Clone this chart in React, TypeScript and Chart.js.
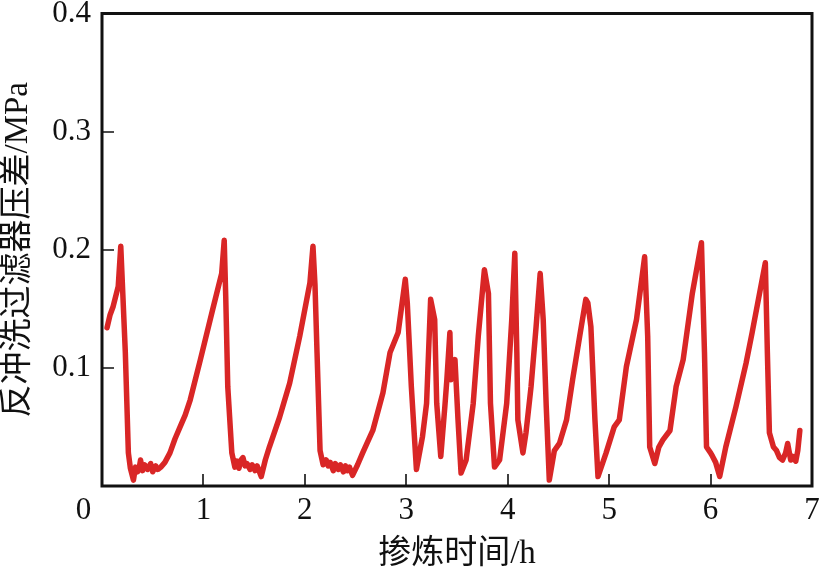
import React, { useEffect, useRef } from "react";
import { Chart, registerables } from "chart.js";

Chart.register(...registerables);

// Time of blending (h)
const timeH: number[] = [
  0.05, 0.08, 0.11, 0.16, 0.185, 0.23, 0.26, 0.28, 0.31, 0.33, 0.35, 0.37, 0.38, 0.4, 0.42,
  0.45, 0.48, 0.5, 0.53, 0.55, 0.58, 0.62, 0.67, 0.72, 0.77, 0.82, 0.87, 0.97, 1.09, 1.18,
  1.205, 1.22, 1.24, 1.28, 1.31, 1.33, 1.35, 1.37, 1.39, 1.41, 1.43, 1.46, 1.48, 1.51, 1.53,
  1.57, 1.61, 1.65, 1.75, 1.85, 1.95, 2.05, 2.08, 2.1, 2.12, 2.15, 2.18, 2.21, 2.23, 2.25,
  2.28, 2.3, 2.33, 2.35, 2.38, 2.4, 2.42, 2.44, 2.47, 2.52, 2.57, 2.67, 2.77, 2.84, 2.92,
  2.99, 3.01, 3.05, 3.1, 3.16, 3.2, 3.24, 3.28, 3.3, 3.34, 3.38, 3.4, 3.43, 3.44, 3.48, 3.51,
  3.54, 3.59, 3.66, 3.71, 3.77, 3.81, 3.83, 3.87, 3.92, 3.99, 4.04, 4.07, 4.09, 4.1, 4.15,
  4.18, 4.23, 4.28, 4.32, 4.35, 4.38, 4.41, 4.46, 4.51, 4.58, 4.64, 4.71, 4.77, 4.79, 4.82,
  4.86, 4.89, 4.97, 5.05, 5.1, 5.17, 5.27, 5.35, 5.38, 5.4, 5.45, 5.49, 5.53, 5.6, 5.66,
  5.73, 5.82, 5.91, 5.94, 5.96, 6.0, 6.02, 6.05, 6.09, 6.15, 6.25, 6.35, 6.41, 6.54, 6.56,
  6.58, 6.62, 6.65, 6.68, 6.71, 6.74, 6.76, 6.79, 6.81, 6.84, 6.86, 6.88,
];

// Backwash filter pressure difference (MPa)
const pressureMPa: number[] = [
  0.134, 0.145, 0.152, 0.169, 0.203, 0.113, 0.028, 0.015, 0.005, 0.016, 0.012, 0.017, 0.022,
  0.013, 0.018, 0.014, 0.019, 0.012, 0.017, 0.014, 0.016, 0.02, 0.028, 0.04, 0.05, 0.06,
  0.073, 0.107, 0.149, 0.18, 0.208, 0.16, 0.084, 0.028, 0.016, 0.021, 0.015, 0.022, 0.024,
  0.017, 0.019, 0.014, 0.018, 0.013, 0.017, 0.008, 0.022, 0.033, 0.058, 0.087, 0.127, 0.172,
  0.203, 0.17, 0.113, 0.03, 0.018, 0.022, 0.017, 0.02, 0.013, 0.019, 0.014, 0.018, 0.012,
  0.017, 0.013, 0.016, 0.009, 0.018, 0.028, 0.047, 0.079, 0.113, 0.13, 0.175, 0.155, 0.084,
  0.014, 0.042, 0.07, 0.158, 0.141, 0.07, 0.025, 0.067, 0.09, 0.13, 0.09, 0.107, 0.056, 0.011,
  0.022, 0.07, 0.127, 0.183, 0.163, 0.07, 0.016, 0.022, 0.07, 0.141, 0.197, 0.113, 0.056,
  0.028, 0.045, 0.084, 0.135, 0.18, 0.141, 0.067, 0.005, 0.03, 0.036, 0.056, 0.09, 0.127,
  0.158, 0.155, 0.135, 0.056, 0.008, 0.028, 0.05, 0.056, 0.101, 0.141, 0.194, 0.127, 0.033,
  0.019, 0.033, 0.039, 0.047, 0.084, 0.107, 0.163, 0.206, 0.113, 0.033, 0.028, 0.025, 0.02,
  0.008, 0.033, 0.067, 0.104, 0.13, 0.189, 0.113, 0.045, 0.033, 0.03, 0.024, 0.022, 0.028,
  0.036, 0.022, 0.025, 0.021, 0.03, 0.047,
];

const xTicks: number[] = [0, 1, 2, 3, 4, 5, 6, 7];
const yTicks: number[] = [0, 0.1, 0.2, 0.3, 0.4];

const xTitle = "掺炼时间/h";
const yTitle = "反冲洗过滤器压差/MPa";

const FONT = "'Liberation Serif', 'Times New Roman', 'Noto Sans CJK SC', serif";
const INK = "#111111";

const framePlugin = {
  id: "frameAndTicks",
  afterDraw(chart: any) {
    const ctx = chart.ctx;
    const area = chart.chartArea;
    const xs = chart.scales.x;
    const ys = chart.scales.y;
    ctx.save();
    ctx.strokeStyle = INK;
    ctx.lineWidth = 1.6;
    ctx.beginPath();
    for (const v of yTicks) {
      if (v <= 0 || v >= 0.4) continue;
      const py = Math.round(ys.getPixelForValue(v));
      ctx.moveTo(area.left, py);
      ctx.lineTo(area.left + 12, py);
    }
    for (const v of xTicks) {
      if (v <= 0 || v >= 7) continue;
      const px = Math.round(xs.getPixelForValue(v));
      ctx.moveTo(px, area.bottom);
      ctx.lineTo(px, area.bottom - 12);
    }
    ctx.stroke();
    // frame
    ctx.lineWidth = 3;
    ctx.strokeRect(area.left, area.top, area.right - area.left, area.bottom - area.top);
    // origin label, shifted left
    ctx.fillStyle = INK;
    ctx.font = `31px ${FONT}`;
    ctx.textAlign = "center";
    ctx.textBaseline = "middle";
    ctx.fillText("0", xs.getPixelForValue(0) - 18.5, area.bottom + 6 + 18.6);
    ctx.restore();
  },
};

export default function App() {
  const ref = useRef<HTMLCanvasElement | null>(null);

  useEffect(() => {
    if (!ref.current) return;
    const points = timeH.map((t, i) => ({ x: t, y: pressureMPa[i] }));
    const chart = new Chart(ref.current, {
      type: "line",
      data: {
        datasets: [
          {
            data: points,
            borderColor: "#d92626",
            borderWidth: 5.5,
            pointRadius: 0,
            tension: 0,
            borderJoinStyle: "round",
            borderCapStyle: "round",
            fill: false,
          },
        ],
      },
      options: {
        animation: false,
        responsive: false,
        layout: { padding: { top: 13.5, right: 7, left: 0, bottom: 0 } },
        plugins: { legend: { display: false }, tooltip: { enabled: false } },
        scales: {
          x: {
            type: "linear",
            min: 0,
            max: 7,
            afterFit: (s: any) => {
              s.height = 85;
              s.paddingLeft = 0;
              s.paddingRight = 0;
            },
            afterBuildTicks: (s: any) => {
              s.ticks = xTicks.map((v) => ({ value: v }));
            },
            grid: { display: false, drawTicks: false },
            border: { display: false },
            ticks: {
              padding: 6,
              color: INK,
              font: { family: FONT, size: 31 },
              maxRotation: 0,
              callback: (v: any) => (v === 0 ? "" : String(v)),
            },
            title: {
              display: true,
              text: xTitle,
              color: INK,
              font: { family: FONT, size: 33, lineHeight: 1 },
              padding: { top: 0, bottom: 0.5 },
            },
          },
          y: {
            type: "linear",
            min: 0,
            max: 0.4,
            afterFit: (s: any) => {
              s.width = 102;
              s.paddingTop = 0;
              s.paddingBottom = 0;
            },
            afterBuildTicks: (s: any) => {
              s.ticks = yTicks.map((v) => ({ value: v }));
            },
            grid: { display: false, drawTicks: false },
            border: { display: false },
            ticks: {
              padding: 11,
              color: INK,
              font: { family: FONT, size: 31, lineHeight: 0.9 },
              callback: (v: any) => (v === 0 ? "" : Number(v).toFixed(1)),
            },
            title: {
              display: true,
              text: yTitle,
              color: INK,
              font: { family: FONT, size: 33, lineHeight: 1 },
              padding: { top: 1.5, bottom: 0 },
            },
          },
        },
      },
      plugins: [framePlugin],
    });
    return () => chart.destroy();
  }, []);

  return (
    <div style={{ position: "absolute", left: 0, top: 0, width: 819, height: 571, background: "#fff" }}>
      <canvas ref={ref} width={819} height={571} />
    </div>
  );
}
